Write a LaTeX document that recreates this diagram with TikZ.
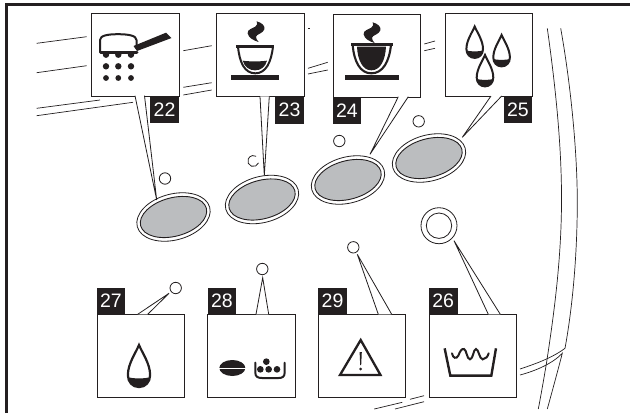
\documentclass[tikz,border=0pt]{standalone}
\usepackage{fontspec}
\setmainfont{Liberation Sans}
\usetikzlibrary{shapes.geometric}
\definecolor{ink}{HTML}{231F20}
\definecolor{btn}{HTML}{BBBDBF}
\tikzset{
  iconbox/.style={draw=ink,line width=0.8pt,fill=white,minimum width=87.3pt,minimum height=83pt,inner sep=0pt,anchor=north west},
  tagbox/.style={fill=ink,text=white,font=\fontsize{19.5pt}{20pt}\selectfont,minimum width=28.7pt,minimum height=27pt,inner sep=0pt,anchor=north west},
  led/.style={draw=ink,line width=0.8pt,fill=white,circle,minimum size=11.4pt,inner sep=0pt},
  outerbtn/.style={draw=ink,line width=0.8pt,fill=white,ellipse,minimum width=75pt,minimum height=46pt,inner sep=0pt,rotate=15},
  innerbtn/.style={draw=ink,line width=0.9pt,fill=btn,ellipse,minimum width=68pt,minimum height=38.5pt,inner sep=0pt,rotate=15},
  bgline/.style={draw=ink,line width=0.7pt},
  callout/.style={draw=ink,line width=0.8pt},
  mask/.style={fill=white},
}
\newcommand{\steamicon}[2]{%
  \begin{scope}[shift={(#1,#2)},scale=0.3333]
    \fill[ink] (122,28) .. controls (138,32) and (148,42) .. (145,52) .. controls (142,64) and (122,66) .. (120,74) .. controls (119,80) and (124,84) .. (128,90) .. controls (112,86) and (97,76) .. (95,64) .. controls (94,52) and (108,50) .. (118,44) .. controls (124,40) and (125,34) .. (122,28) -- cycle;
  \end{scope}}
\newcommand{\dropicon}[4]{%
  \begin{scope}[shift={(#1,#2)},scale=#3]
    \path[save path=\droppath] (0,0) .. controls (-2.5,6) and (-8.3,14) .. (-8.3,22.5) .. controls (-8.3,27.6) and (-4.8,31.4) .. (0,31.4) .. controls (4.8,31.4) and (8.3,27.6) .. (8.3,22.5) .. controls (8.3,14) and (2.5,6) .. (0,0) -- cycle;
    \begin{scope}
      \clip[use path=\droppath];
      \fill[ink] (-10,23.6) .. controls (-4,25.4) and (4,25.4) .. (10,23.6) -- (10,33) -- (-10,33) -- cycle;
    \end{scope}
    \draw[ink,line width=#4,line join=miter,use path=\droppath];
  \end{scope}}
\begin{document}
\begin{tikzpicture}[x=1pt,y=-1pt]
\useasboundingbox (0,0) rectangle (630,413);
\fill[white] (0,0) rectangle (630,413);
% frame
\draw[ink,line width=2.9pt] (6.5,413) -- (6.5,4.5) -- (630,4.5);
% background lines
\foreach \a/\b/\c/\d in {36.7/43.3/86.7/36.7, 36.7/72.7/86.7/65.7, 36.7/108.3/100/100, 36.7/115.7/133/102.3,
  183.3/50.7/211.7/45.7, 183.3/87.3/211.7/82.7, 183.3/95/211.7/90, 308/28.5/310/28.5,
  308/68.3/327.7/62.3, 308/74/327.7/70, 424.3/44/435/41, 424.3/50.7/435/48.3,
  374.3/409/402.3/402.3, 395/409/424/401.7, 410/399.3/424/395.7}
  {\draw[bgline] (\a,\b) -- (\c,\d);}
\draw[bgline] (547.3,28.3) .. controls (556,90) and (562,150) .. (561.5,205) .. controls (561,265) and (553,320) .. (546.7,361.7) .. controls (544,378) and (541,395) .. (538.3,409);
\draw[bgline] (560.7,28.3) .. controls (570,80) and (577.5,150) .. (577.3,205) .. controls (577,260) and (572,310) .. (565,348.3) .. controls (552,358) and (535,364) .. (520,369);
\draw[bgline] (520,375) .. controls (535,371) and (552,364) .. (562.3,353.3) .. controls (558,370) and (552,392) .. (547.3,409);
% buttons
\foreach \n/\x/\y in {a/173.5/217, b/262/199.5, c/348/180, d/429/158}{
  \node[outerbtn] (out\n) at (\x,\y) {};
  \node[innerbtn] (in\n) at (\x,\y) {};
}
% leds
\node[led] (l22) at (165,178.5) {};
\draw[ink,line width=0.8pt] (258.5,162.9) arc[start angle=20,end angle=300,radius=5.5];
\node[led] (l24) at (339.3,141) {};
\node[led] (l25) at (418.7,121.3) {};
\node[led] (l27) at (175.7,288) {};
\node[led] (l28) at (262.3,269) {};
\node[led] (l29) at (353.3,247.3) {};
\node[draw=ink,line width=0.8pt,circle,minimum size=36pt,inner sep=0pt] (l26o) at (439,225.7) {};
\node[draw=ink,line width=0.8pt,circle,minimum size=25.4pt,inner sep=0pt] (l26) at (439,225.7) {};
% boxes
\node[iconbox] (b22) at (91.3,12.7) {};
\node[iconbox] (b23) at (216.3,13.3) {};
\node[iconbox] (b24) at (332.5,13.7) {};
\node[iconbox] (b25) at (444.5,13) {};
\node[iconbox] (b27) at (96.7,314.3) {};
\node[iconbox] (b28) at (207.4,314.3) {};
\node[iconbox] (b29) at (318,314.3) {};
\node[iconbox] (b26) at (428.7,314.3) {};
% tags
\node[tagbox] (t22) at (150,95.7) {22};
\node[tagbox] (t23) at (275,96.3) {23};
\node[tagbox] (t24) at (332.3,96.7) {24};
\node[tagbox] (t25) at (503.3,96) {25};
\node[tagbox] (t27) at (96.3,287.3) {27};
\node[tagbox] (t28) at (207.3,287.3) {28};
\node[tagbox] (t29) at (318,287.3) {29};
\node[tagbox] (t26) at (428.7,287.3) {26};
% callouts
\foreach \n/\ax/\ay/\bx/\by/\tx/\ty in {
  22/135/95.7/144.5/95.7/156.7/200,
  23/260/96.3/269.3/96.3/264.3/175.5,
  24/398.3/96.7/408.3/96.7/370/154.3,
  25/491/96/501.7/96/462.3/137.3,
  27/137.7/314.3/147.7/314.3/169/293.3,
  28/256/314.3/268.7/314.3/262.7/277.7,
  29/378.3/314.3/391.7/314.3/357.3/254.3,
  26/488.3/314.3/500.3/314.3/454/240.7}{
  \coordinate (ca\n) at (\ax,\ay);
  \coordinate (cb\n) at (\bx,\by);
  \coordinate (tip\n) at (\tx,\ty);
  \fill[mask] (ca\n) -- (tip\n) -- (cb\n) -- cycle;
  \draw[callout] (ca\n) -- (tip\n) -- (cb\n);
}
% pan icon
\draw[ink,line width=2pt,line join=round] (100,52) -- (100,40) .. controls (100,35.5) and (108,34.2) .. (118,34.2) .. controls (128,34.2) and (136.5,35.5) .. (136.5,40) -- (136.5,46);
\draw[ink,line width=3pt,line cap=round] (100.5,52.5) -- (137,52.5);
\fill[ink] (133.5,46) -- (166,32.7) -- (171.5,38) -- (137,51) -- cycle;
\foreach \x/\y/\r in {106/54.7/3.2,118.3/54.7/3.2,131/54.7/3.2,106/66.3/3.2,118.3/66.3/3.2,131/66.3/3.2,106/78/2.9,118.3/78/2.9,131/78/2.9}
  {\fill[ink] (\x,\y) circle[radius=\r];}
% cup 23
\steamicon{216}{12}
\begin{scope}[shift={(216,12)},scale=0.3333]
  \draw[ink,line width=2pt] (66,103) .. controls (70,150) and (85,184) .. (118,184) .. controls (150,184) and (166,150) .. (171,103);
  \draw[ink,line width=2.4pt] (60,103) -- (175,103);
  \fill[ink] (80,146) .. controls (100,149) and (132,149) .. (153,146) .. controls (148,165) and (135,175) .. (117,175) .. controls (100,175) and (86,165) .. (80,146) -- cycle;
  \fill[ink] (45,190) rectangle (190,203);
\end{scope}
% cup 24
\steamicon{332}{13}
\begin{scope}[shift={(332,12)},scale=0.3333]
  \draw[ink,line width=2.1pt] (62,98) .. controls (66,150) and (85,184) .. (118,184) .. controls (152,184) and (172,150) .. (177,98);
  \draw[ink,line width=2.4pt] (57,98) -- (182,98);
  \fill[ink] (75,104) -- (162,104) .. controls (160,145) and (145,175) .. (118,175) .. controls (92,175) and (77,145) .. (75,104) -- cycle;
  \fill[ink] (40,190) rectangle (200,203);
\end{scope}
% drops
\dropicon{474.7}{26.5}{1}{2pt}
\dropicon{501.6}{35}{1}{2pt}
\dropicon{485}{55}{1}{2pt}
\dropicon{139}{345}{1.34}{2.2pt}
% bean and bowl
\begin{scope}[shift={(207,340)},scale=0.3333]
  \fill[ink] (76,84) ellipse[x radius=39,y radius=24];
  \draw[white,line width=1.3pt] (30,85) -- (122,85);
  \draw[ink,line width=2pt,line cap=round] (145,68) -- (145,98) .. controls (145,110) and (152,114) .. (165,114) -- (215,114) .. controls (226,114) and (233,110) .. (233,98) -- (233,68);
  \foreach \x/\y in {178/65,160/88,185/88,210/88}{\fill[ink] (\x,\y) circle[radius=10];}
\end{scope}
% warning triangle
\draw[ink,line width=2.3pt,line join=miter] (360.7,340) -- (380.5,375) -- (340,375) -- cycle;
\fill[ink] (359.6,352) -- (361.8,352) -- (361.2,365) -- (360.2,365) -- cycle;
\fill[ink] (360.7,369) circle[radius=1.5];
% basin
\begin{scope}[shift={(318,325)},scale=0.3333]
  \draw[ink,line width=2.4pt,line join=miter] (380,70) -- (397,152) -- (520,152) -- (534,70);
  \draw[ink,line width=2pt,line cap=round] (402,85) .. controls (405,100) and (415,103) .. (421,92) .. controls (426,78) and (432,70) .. (438,72) .. controls (446,74) and (446,102) .. (456,103) .. controls (466,102) and (466,72) .. (474,72) .. controls (482,72) and (484,102) .. (494,103) .. controls (504,102) and (509,95) .. (512,85);
\end{scope}
\end{tikzpicture}
\end{document}
